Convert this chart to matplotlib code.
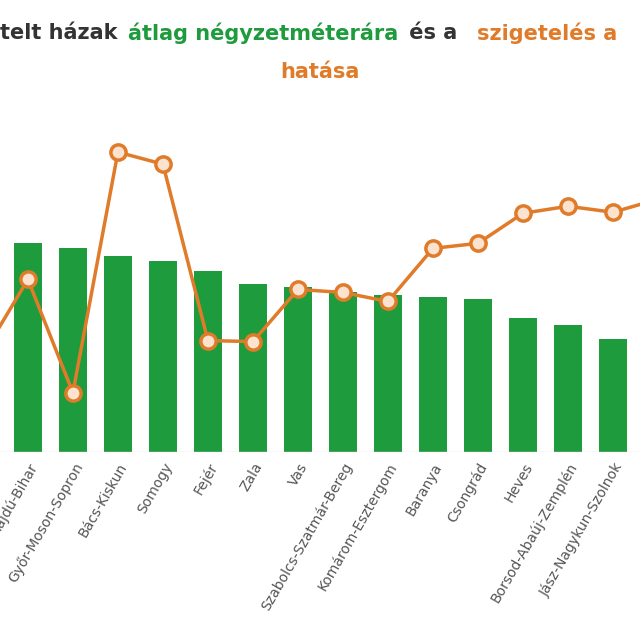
import matplotlib
matplotlib.use("Agg")
import matplotlib.pyplot as plt

# megyék (az első és az utolsó részben kilóg a képből)
megyek = ["", "Hajdú-Bihar", "Győr-Moson-Sopron", "Bács-Kiskun", "Somogy", "Fejér", "Zala", "Vas",
          "Szabolcs-Szatmár-Bereg", "Komárom-Esztergom", "Baranya", "Csongrád", "Heves",
          "Borsod-Abaúj-Zemplén", "Jász-Nagykun-Szolnok", "Tolna"]
atlag_ar = [215, 208, 203, 195, 190, 180, 167, 164, 159, 156, 154, 152, 134, 127, 113, 107]
szigeteles = [97, 172, 59, 299, 287, 111, 110, 162, 159, 150, 203, 208, 238, 245, 239, 252]

zold = "#1E9B3C"
narancs = "#E07B2A"

fig = plt.figure(figsize=(6.4, 6.4), dpi=100)
ax = fig.add_axes([0, 0.294, 1, 0.52])
x = list(range(-1, len(megyek) - 1))

ax.bar(x, atlag_ar, width=0.62, color=zold, zorder=2)
ax.plot(x, szigeteles, color=narancs, lw=2.5, marker="o", ms=11,
        mfc="#FBE3CF", mec=narancs, mew=2.5, zorder=3)

ax.set_xticks(x)
ax.set_xticklabels(megyek, rotation=60, ha="right", rotation_mode="anchor",
                   fontsize=10, color="#555555")
ax.set_xlim(-0.62, 13.6)
ax.set_ylim(0, 332)
ax.tick_params(axis="x", length=0, pad=6)
ax.set_yticks([])
for s in ax.spines.values():
    s.set_visible(False)
ax.axhline(0, color="#D9D9D9", lw=1)

kw = dict(fontsize=15, fontweight="bold", va="center")
fig.text(0.0, 0.948, "telt házak ", color="#333333", **kw)
fig.text(0.20, 0.948, "átlag négyzetméterára", color=zold, **kw)
fig.text(0.628, 0.948, " és a ", color="#333333", **kw)
fig.text(0.745, 0.948, "szigetelés a", color=narancs, **kw)
fig.text(0.5, 0.888, "hatása", color=narancs, ha="center", **kw)

fig.savefig("out.png", dpi=100)
